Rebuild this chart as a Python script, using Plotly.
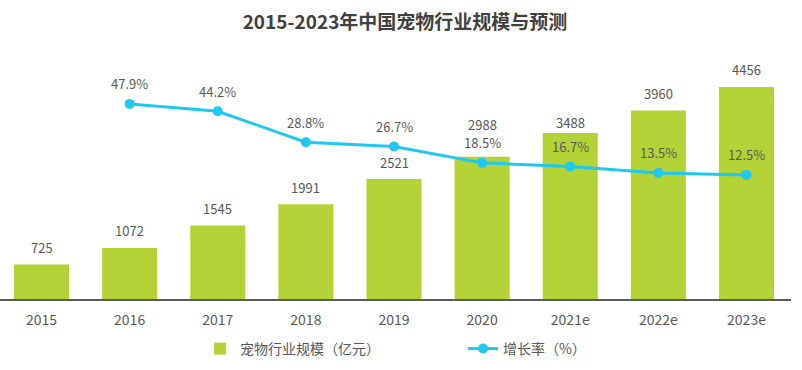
import plotly.graph_objects as go

categories = ["2015", "2016", "2017", "2018", "2019", "2020", "2021e", "2022e", "2023e"]
market_size = [725, 1072, 1545, 1991, 2521, 2988, 3488, 3960, 4456]
growth_cats = ["2016", "2017", "2018", "2019", "2020", "2021e", "2022e", "2023e"]
growth_rate = [47.9, 44.2, 28.8, 26.7, 18.5, 16.7, 13.5, 12.5]

BAR_COLOR = "#B2D235"
LINE_COLOR = "#1EC8F0"
TEXT_COLOR = "#595959"
FONT = "Noto Sans CJK SC, Noto Sans, sans-serif"

# label offsets (px above bar top), adjusted where labels would collide
BAR_LABEL_SHIFT = {"2020": 32, "2021e": 10}
DEFAULT_BAR_SHIFT = 17
LINE_LABEL_SHIFT = 20

fig = go.Figure()
fig.add_trace(go.Bar(
    x=categories, y=market_size, name="宠物行业规模（亿元）",
    marker=dict(color=BAR_COLOR, line=dict(width=0)),
    yaxis="y",
))
fig.add_trace(go.Scatter(
    x=growth_cats, y=growth_rate, name="增长率（%）",
    mode="lines+markers",
    line=dict(color=LINE_COLOR, width=3),
    marker=dict(color=LINE_COLOR, size=10),
    yaxis="y2",
))

annotations = []
for c, v in zip(categories, market_size):
    annotations.append(dict(x=categories.index(c), y=v, xref="x", yref="y", text=str(v),
                            showarrow=False, yshift=BAR_LABEL_SHIFT.get(c, DEFAULT_BAR_SHIFT),
                            font=dict(size=13, color=TEXT_COLOR, family=FONT)))
for c, v in zip(growth_cats, growth_rate):
    annotations.append(dict(x=categories.index(c), y=v, xref="x", yref="y2", text=f"{v:.1f}%",
                            showarrow=False, yshift=LINE_LABEL_SHIFT,
                            font=dict(size=13, color=TEXT_COLOR, family=FONT)))

fig.update_layout(
    width=802, height=370,
    margin=dict(l=0, r=11, t=61, b=71),
    paper_bgcolor="white", plot_bgcolor="white",
    font=dict(family=FONT, color=TEXT_COLOR, size=12),
    title=dict(text="<b>2015-2023年中国宠物行业规模与预测</b>",
               x=405 / 802, xanchor="center", y=1 - 22 / 370, yanchor="middle",
               font=dict(size=19, color="#404040", family=FONT)),
    bargap=0.376,
    xaxis=dict(type="category", range=[-0.471, 8.505], showgrid=False,
               showline=True, linecolor="#595959", linewidth=1.5,
               ticks="", ticklabelstandoff=7,
               tickfont=dict(size=14, color=TEXT_COLOR, family=FONT),
               fixedrange=True),
    yaxis=dict(range=[0, 5000], visible=False, showgrid=False),
    yaxis2=dict(range=[-49.4, 69.3], overlaying="y", visible=False, showgrid=False),
    legend=dict(orientation="h", x=0.253, xanchor="left", y=-0.21, yanchor="middle",
                font=dict(size=14, color=TEXT_COLOR, family=FONT),
                itemwidth=30, entrywidth=218),
    annotations=annotations,
    showlegend=True,
)

fig.write_html("out.html", config={"displayModeBar": False},
               post_script="document.body.style.margin='0';")
